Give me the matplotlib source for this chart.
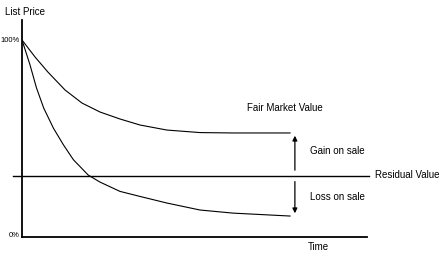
import matplotlib.pyplot as plt
import numpy as np

# curves (time in arbitrary units, value in % of list price)
fmv_t = [0, 3.8, 7.5, 12.5, 17.4, 22.6, 28.4, 34.2, 42, 51.6, 61.2, 77.7]
fmv_v = [100, 91.2, 83.5, 74.2, 67.5, 62.9, 59.3, 56.2, 53.6, 52.3, 52.1, 52.1]
low_t = [0, 2.3, 4.2, 6.3, 9.1, 12, 14.9, 19.2, 22.6, 28.4, 34.2, 42, 51.6, 61.2, 77.7]
low_v = [100, 87.3, 75.3, 64.9, 54.6, 46, 38.3, 30.4, 26.8, 22, 19.4, 16, 12.4, 10.8, 9.3]
residual = 30
arrow_t = 79.1

plt.rcParams['font.family'] = ['Liberation Sans', 'DejaVu Sans']

fig = plt.figure(figsize=(4.45, 2.59), dpi=100)
ax = fig.add_axes([22/445, 22/259, 345/445, 217/259])
ax.set_xlim(0, 100)
ax.set_ylim(-1.5, 110.3)

ax.plot(fmv_t, fmv_v, color='black', lw=0.8)
ax.plot(low_t, low_v, color='black', lw=0.8)
ax.plot([-2.6, 100.6], [residual, residual], color='black', lw=1.0, clip_on=False)

# gain / loss arrows
ax.annotate('', xy=(arrow_t, fmv_v[-1]), xytext=(arrow_t, residual + 1.5),
            arrowprops=dict(arrowstyle='-|>', color='black', lw=0.9, mutation_scale=7))
ax.annotate('', xy=(arrow_t, low_v[-1]), xytext=(arrow_t, residual - 1.5),
            arrowprops=dict(arrowstyle='-|>', color='black', lw=0.9, mutation_scale=7))

for s in ['top', 'right']:
    ax.spines[s].set_visible(False)
ax.spines['left'].set_linewidth(1.3)
ax.spines['bottom'].set_linewidth(1.3)
ax.set_xticks([])
ax.set_yticks([0, 100])
ax.set_yticklabels(['0%', '100%'], fontsize=5.5)
ax.tick_params(axis='y', length=0, pad=1.5)

ax.text(-4.9, 114.4, 'List Price', fontsize=7, ha='left', va='center', clip_on=False)
ax.text(85.8, -6.7, 'Time', fontsize=7, ha='center', va='center', clip_on=False)
ax.text(65.2, 65, 'Fair Market Value', fontsize=7, ha='left', va='center')
ax.text(83.5, 42.8, 'Gain on sale', fontsize=7, ha='left', va='center')
ax.text(83.5, 19, 'Loss on sale', fontsize=7, ha='left', va='center')
ax.text(102.3, 30.4, 'Residual Value', fontsize=7, ha='left', va='center', clip_on=False)

fig.savefig('out.png', dpi=100)
